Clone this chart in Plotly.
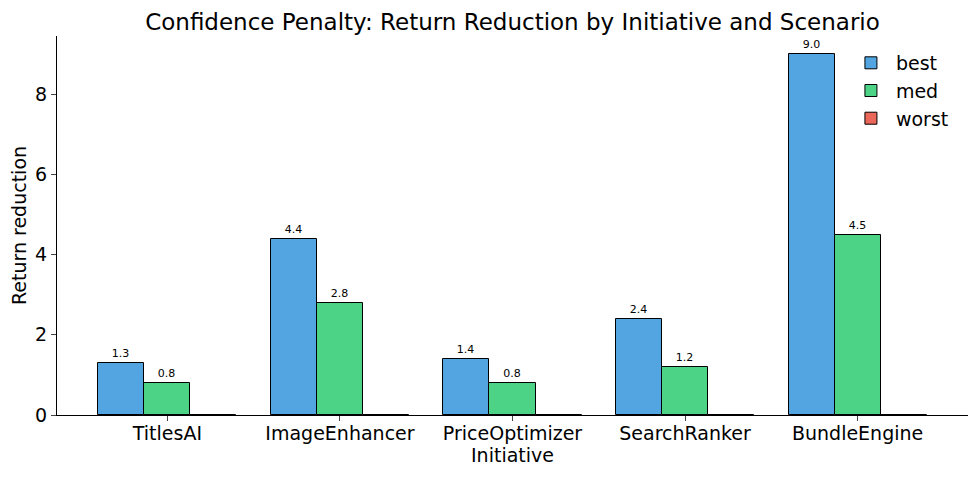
import plotly.graph_objects as go

categories = ["TitlesAI", "ImageEnhancer", "PriceOptimizer", "SearchRanker", "BundleEngine"]
best = [1.3, 4.4, 1.4, 2.4, 9.0]
med = [0.8, 2.8, 0.8, 1.2, 4.5]
worst = [0.0, 0.0, 0.0, 0.0, 0.0]

series = [("best", best, "rgb(82,165,224)"),
          ("med", med, "rgb(77,211,134)"),
          ("worst", worst, "rgb(235,103,89)")]

w = 0.8 / 3
fig = go.Figure()
for i, (name, vals, color) in enumerate(series):
    xs = [k + (i - 1) * w for k in range(len(categories))]
    show_text = name != "worst"
    fig.add_trace(go.Bar(
        x=xs, y=vals, width=w, name=name,
        marker=dict(color=color, line=dict(color="black", width=1)),
        text=[f"{v:.1f}" for v in vals] if show_text else None,
        textposition="outside" if show_text else None,
        textfont=dict(size=11, color="black"),
        cliponaxis=False,
    ))

fig.update_layout(
    width=978, height=478,
    margin=dict(l=49, r=18, t=28, b=71, autoexpand=False),
    paper_bgcolor="white", plot_bgcolor="white",
    font=dict(family="DejaVu Sans", color="black", size=19),
    title=dict(text="Confidence Penalty: Return Reduction by Initiative and Scenario",
               xref="paper", x=0.5, xanchor="center", y=0.971, yanchor="middle",
               font=dict(size=23)),
    barmode="overlay", bargap=0,
    showlegend=True,
    legend=dict(x=0.866, y=0.979, xanchor="left", yanchor="top",
                bgcolor="rgba(255,255,255,0)", font=dict(size=19),
                itemwidth=40, tracegroupgap=0),
)
fig.update_xaxes(
    range=[-0.64, 4.64], tickvals=list(range(len(categories))), ticktext=categories,
    showline=True, linecolor="black", linewidth=1, ticks="outside", ticklen=5,
    showgrid=False, zeroline=False, tickfont=dict(size=19), automargin=False,
    ticklabelstandoff=-4,
    title=dict(text="Initiative", font=dict(size=19), standoff=4),
)
fig.update_yaxes(
    range=[0, 9.45], tickvals=[0, 2, 4, 6, 8],
    showline=True, linecolor="black", linewidth=1, ticks="outside", ticklen=5,
    showgrid=False, zeroline=False, tickfont=dict(size=19), automargin=False,
    title=dict(text="Return reduction", font=dict(size=19), standoff=8),
)
fig.write_html("out.html")
